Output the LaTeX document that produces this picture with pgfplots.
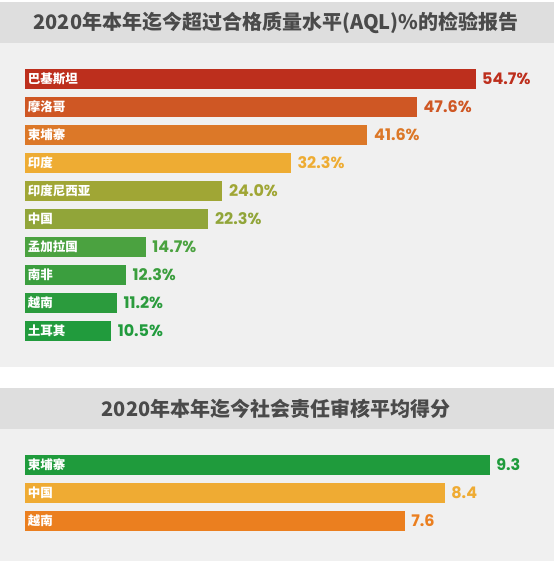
\documentclass[border=0pt]{standalone}
\usepackage{fontspec}
\setmainfont{Poppins}
\newfontfamily\cjk{Noto Sans CJK SC}
\usepackage{pgfplots}
\pgfplotsset{compat=1.18}
\definecolor{banner}{HTML}{DEDEDE}
\definecolor{panel}{HTML}{F0F0F0}
\definecolor{titlec}{HTML}{4A4A4A}
\definecolor{c1}{HTML}{BD2F1D}
\definecolor{c2}{HTML}{CF5724}
\definecolor{c3}{HTML}{DC7828}
\definecolor{c4}{HTML}{EEAC33}
\definecolor{c5}{HTML}{A0A635}
\definecolor{c6}{HTML}{91A539}
\definecolor{c7}{HTML}{4BA240}
\definecolor{c8}{HTML}{3B9E3E}
\definecolor{c9}{HTML}{2B9B3D}
\definecolor{c10}{HTML}{219B3D}
\definecolor{d1}{HTML}{1F9B3C}
\definecolor{d2}{HTML}{EFAB33}
\definecolor{d3}{HTML}{EB7F1F}
\pgfplotsset{
  barpanel/.style={
    xbar, bar width=20pt, bar shift=0pt,
    enlargelimits=false, clip=false, axis on top,
    axis line style={draw=none}, tick style={draw=none},
    xtick=\empty, ytick={0,1,2,3,4,5,6,7,8,9},
    yticklabel style={anchor=west, inner sep=0pt, xshift=7.5pt, text=white,
      font=\cjk\bfseries\fontsize{12.5}{14}\selectfont},
    point meta=x,
    every node near coord/.append style={anchor=west, inner sep=0pt, xshift=6.5pt,
      font=\bfseries\fontsize{16}{18}\selectfont},
  },
}
\begin{document}
\begin{tikzpicture}[x=1pt,y=1pt]
\fill[white] (0,0) rectangle (554,-561);
\fill[banner] (0,-2) rectangle (554,-43);
\fill[panel] (0,-43) rectangle (554,-367);
\fill[banner] (0,-388) rectangle (554,-429);
\fill[panel] (0,-429) rectangle (554,-561);
\node[font=\cjk\bfseries\fontsize{20}{24}\selectfont, text=titlec] at (276,-23) {2020年本年迄今超过合格质量水平(AQL)\%的检验报告};
\node[font=\cjk\bfseries\fontsize{20}{24}\selectfont, text=titlec] at (276,-409) {2020年本年迄今社会责任审核平均得分};

\begin{axis}[barpanel,
  at={(24.5pt,-79pt)}, anchor=origin,
  x=8.245pt, y=-28pt,
  xmin=0, xmax=62, ymin=-0.5, ymax=9.5,
  yticklabels={巴基斯坦,摩洛哥,柬埔寨,印度,印度尼西亚,中国,孟加拉国,南非,越南,土耳其},
  nodes near coords={\pgfmathprintnumber[fixed,fixed zerofill,precision=1,assume math mode=true]{\pgfplotspointmeta}\%},
]
\addplot[fill=c1, draw=none, every node near coord/.append style={text=c1}] coordinates {(54.7,0)};
\addplot[fill=c2, draw=none, every node near coord/.append style={text=c2}] coordinates {(47.6,1)};
\addplot[fill=c3, draw=none, every node near coord/.append style={text=c3}] coordinates {(41.6,2)};
\addplot[fill=c4, draw=none, every node near coord/.append style={text=c4}] coordinates {(32.3,3)};
\addplot[fill=c5, draw=none, every node near coord/.append style={text=c5}] coordinates {(24.0,4)};
\addplot[fill=c6, draw=none, every node near coord/.append style={text=c6}] coordinates {(22.3,5)};
\addplot[fill=c7, draw=none, every node near coord/.append style={text=c7}] coordinates {(14.7,6)};
\addplot[fill=c8, draw=none, every node near coord/.append style={text=c8}] coordinates {(12.3,7)};
\addplot[fill=c9, draw=none, every node near coord/.append style={text=c9}] coordinates {(11.2,8)};
\addplot[fill=c10, draw=none, every node near coord/.append style={text=c10}] coordinates {(10.5,9)};
\end{axis}

\begin{axis}[barpanel,
  at={(24.5pt,-465pt)}, anchor=origin,
  x=50.02pt, y=-28pt,
  xmin=0, xmax=10, ymin=-0.5, ymax=2.5,
  ytick={0,1,2},
  yticklabels={柬埔寨,中国,越南},
  nodes near coords={\pgfmathprintnumber[fixed,fixed zerofill,precision=1,assume math mode=true]{\pgfplotspointmeta}},
]
\addplot[fill=d1, draw=none, every node near coord/.append style={text=d1}] coordinates {(9.3,0)};
\addplot[fill=d2, draw=none, every node near coord/.append style={text=d2}] coordinates {(8.4,1)};
\addplot[fill=d3, draw=none, every node near coord/.append style={text=d3}] coordinates {(7.6,2)};
\end{axis}
\end{tikzpicture}
\end{document}
